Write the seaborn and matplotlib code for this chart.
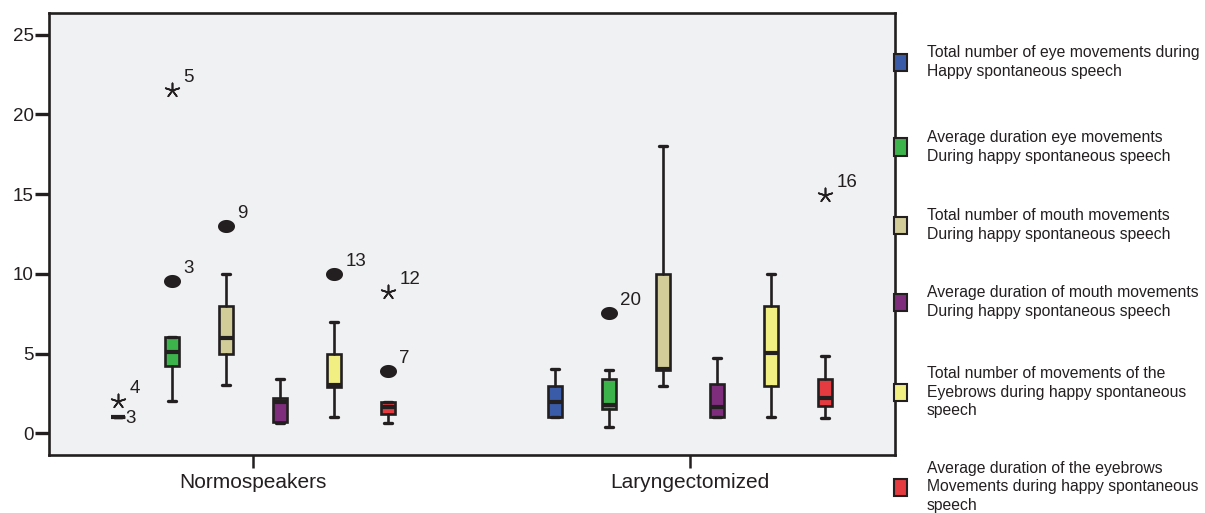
import numpy as np
import pandas as pd
import matplotlib
matplotlib.use("Agg")
import matplotlib.pyplot as plt
from matplotlib.path import Path
from matplotlib.patches import Rectangle
import seaborn as sns

# ---------------- data ----------------
groups = ["Normospeakers", "Laryngectomized"]
variables = [
    "Total number of eye movements during\nHappy spontaneous speech",
    "Average duration eye movements\nDuring happy spontaneous speech",
    "Total number of mouth movements\nDuring happy spontaneous speech",
    "Average duration of mouth movements\nDuring happy spontaneous speech",
    "Total number of movements of the\nEyebrows during happy spontaneous\nspeech",
    "Average duration of the eyebrows\nMovements during happy spontaneous\nspeech",
]
colors = ["#3a5ca8", "#3db34b", "#d1cc98", "#7e2d7c", "#f1ee82", "#e33b40"]

# Normospeakers box statistics (one entry per variable)
normo_whislo = [1.0, 2.0, 3.0, 0.63, 1.0, 0.65]
normo_q1     = [1.0, 4.24, 4.97, 0.73, 2.93, 1.21]
normo_med    = [1.0, 5.12, 6.0, 1.99, 3.0, 1.63]
normo_q3     = [1.0, 6.06, 8.0, 2.19, 5.0, 1.94]
normo_whishi = [1.0, 6.06, 10.0, 3.39, 6.98, 1.94]

# Laryngectomized box statistics
lary_whislo = [1.0, 0.42, 2.99, 1.0, 1.0, 0.94]
lary_q1     = [1.0, 1.53, 3.97, 1.05, 2.97, 1.73]
lary_med    = [1.99, 1.78, 4.05, 1.67, 5.02, 2.24]
lary_q3     = [2.99, 3.41, 9.99, 3.09, 8.0, 3.41]
lary_whishi = [4.01, 3.97, 18.02, 4.7, 10.0, 4.85]

# outliers: group index, variable index, value, kind, case label
out_group = [0, 0, 0, 0, 0, 0, 0, 1, 1]
out_var   = [0, 1, 1, 2, 4, 5, 5, 1, 5]
out_value = [2.0, 9.55, 21.5, 13.0, 10.0, 3.9, 8.88, 7.53, 14.95]
out_kind  = ["extreme", "outlier", "extreme", "outlier", "outlier", "outlier", "extreme", "outlier", "extreme"]
out_label = ["4", "3", "5", "9", "13", "7", "12", "20", "16"]
# label of the collapsed box (case 3) for variable 0 of Normospeakers
collapsed_label = "3"
y_ticks = [0, 5, 10, 15, 20, 25]

# ---------------- style ----------------
sns.set_style("ticks")
plt.rcParams["font.family"] = ["Liberation Sans", "DejaVu Sans"]
ink = "#231f20"

fig = plt.figure(figsize=(12.05, 5.13), dpi=100)
ax = fig.add_axes([49 / 1205, 1 - 455 / 513, (895 - 49) / 1205, (455 - 13) / 513])
ax.set_facecolor("#f0f1f3")

step = 0.1236
bw = 0.033
offsets = [(i - 2.5) * step for i in range(len(variables))]

stat_sets = [
    (normo_whislo, normo_q1, normo_med, normo_q3, normo_whishi),
    (lary_whislo, lary_q1, lary_med, lary_q3, lary_whishi),
]
for g, (wl, q1, md, q3, wh) in enumerate(stat_sets):
    for i in range(len(variables)):
        st = [dict(whislo=wl[i], q1=q1[i], med=md[i], q3=q3[i], whishi=wh[i], fliers=[])]
        ax.bxp(
            st, positions=[g + offsets[i]], widths=bw, capwidths=0.019,
            patch_artist=True, showfliers=False, manage_ticks=False,
            boxprops=dict(facecolor=colors[i], edgecolor=ink, linewidth=1.9),
            medianprops=dict(color=ink, linewidth=3.0, solid_capstyle="butt"),
            whiskerprops=dict(color=ink, linewidth=1.9),
            capprops=dict(color=ink, linewidth=2.4),
        )

# outliers via seaborn
t = np.linspace(0, 2 * np.pi, 60)
ellipse = Path(np.column_stack([1.3 * np.cos(t), np.sin(t)]))
odf = pd.DataFrame({
    "x": [out_group[k] + offsets[out_var[k]] for k in range(len(out_value))],
    "y": out_value, "kind": out_kind, "label": out_label,
})
circ = odf[odf.kind == "outlier"]
star = odf[odf.kind == "extreme"]
sns.scatterplot(data=circ, x="x", y="y", marker=ellipse, s=150, color=ink,
                edgecolor=ink, linewidth=0, ax=ax, legend=False, zorder=5)
sns.scatterplot(data=star, x="x", y="y", marker=(5, 2, 0), s=105, color=ink,
                edgecolor=ink, linewidth=1.2, ax=ax, legend=False, zorder=5)
for _, r in odf.iterrows():
    ax.annotate(r["label"], (r["x"], r["y"]), xytext=(8, 9), textcoords="offset points",
                ha="left", va="center", fontsize=13.5, color=ink)
ax.annotate(collapsed_label, (0 + offsets[0], normo_med[0]), xytext=(5, -1),
            textcoords="offset points", ha="left", va="center", fontsize=13.5, color=ink)

ax.set_xlim(-0.467, 1.469)
ax.set_ylim(-1.36, 26.36)
ax.set_yticks(y_ticks)
ax.set_yticklabels([str(v) for v in y_ticks], fontsize=13.5, color=ink)
ax.set_xticks([0, 1])
ax.set_xticklabels(groups, fontsize=15, color=ink)
ax.tick_params(axis="y", length=10, width=2.4, color=ink, pad=1)
ax.tick_params(axis="x", length=9, width=1.8, color=ink, pad=4)
ax.set_xlabel("")
ax.set_ylabel("")
for sp in ax.spines.values():
    sp.set_visible(True)
    sp.set_color(ink)
    sp.set_linewidth(1.9)

# legend drawn outside at right
leg_centers = [62, 147, 225, 302, 392, 487]
for i, lab in enumerate(variables):
    yc = 1 - leg_centers[i] / 513
    fig.patches.append(Rectangle((894 / 1205, yc - 8.5 / 513), 13 / 1205, 17 / 513,
                                 transform=fig.transFigure, facecolor=colors[i],
                                 edgecolor=ink, linewidth=1.5, zorder=6))
    fig.text(927 / 1205, yc, lab, ha="left", va="center", fontsize=11.3,
             color=ink, linespacing=1.33)

fig.savefig("out.png", dpi=100)
